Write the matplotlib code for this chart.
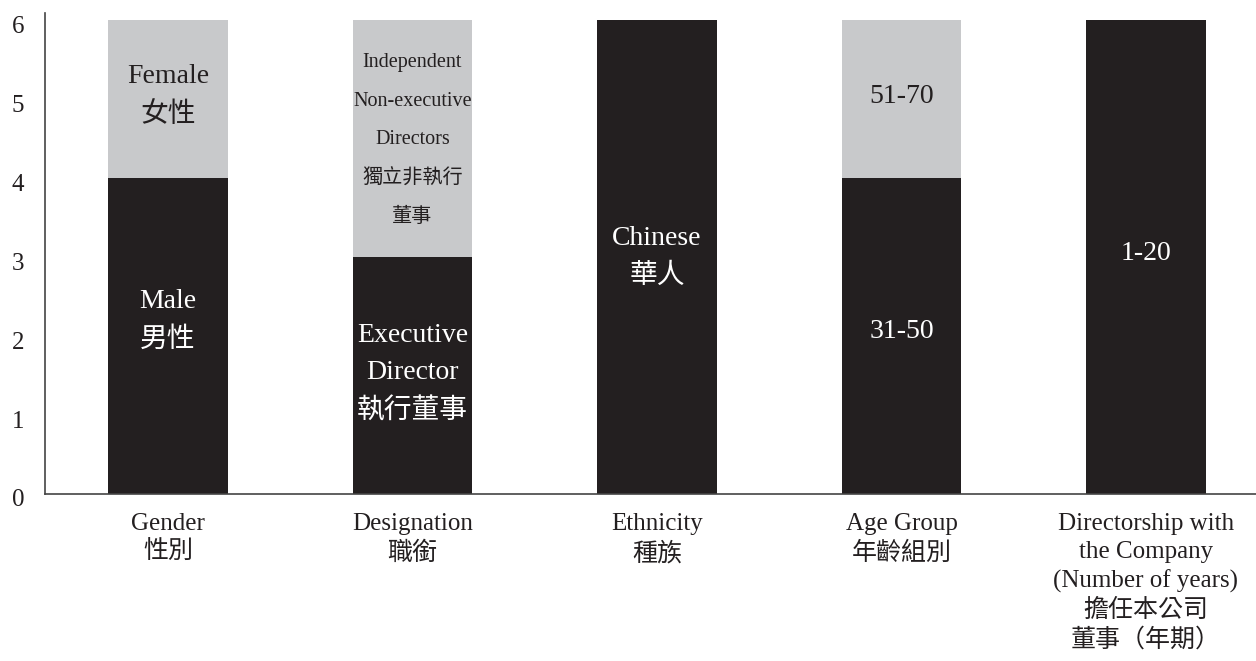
import matplotlib.pyplot as plt
import matplotlib.transforms as mtransforms
import numpy as np

plt.rcParams['font.family'] = ['Liberation Serif', 'Noto Sans CJK TC', 'DejaVu Sans']

categories = ["Gender\n性別", "Designation\n職銜", "Ethnicity\n種族", "Age Group\n年齡組別",
              "Directorship with\nthe Company\n(Number of years)\n擔任本公司\n董事（年期）"]
bottom_values = [4, 3, 6, 4, 6]
top_values = [2, 3, 0, 2, 0]
bottom_labels = ["Male\n男性", "Executive\nDirector\n執行董事", "Chinese\n華人", "31-50", "1-20"]
top_labels = ["Female\n女性", "Independent\nNon-executive\nDirectors\n獨立非執行\n董事", "", "51-70", ""]
bottom_label_y = [2.19, 1.52, 2.99, 2.06, 3.05]
top_label_y = [5.04, 4.48, 0, 5.03, 0]

dark = "#231f20"
light = "#c8c9cb"


def main():
    fig = plt.figure(figsize=(12.56, 6.61), dpi=100)
    ax = fig.add_axes([0.036, 0.253, 0.964, 0.727])
    x = np.arange(len(categories))
    width = 0.49
    ax.bar(x, bottom_values, width, color=dark)
    ax.bar(x, top_values, width, bottom=bottom_values, color=light)

    for i in range(len(categories)):
        ax.text(x[i], bottom_label_y[i], bottom_labels[i], ha="center", va="center",
                color="white", fontsize=20, linespacing=1.65)
        if top_labels[i]:
            if i == 1:
                # narrow column, the original uses a condensed face
                ax.text(x[i], top_label_y[i], top_labels[i], ha="center", va="center",
                        color=dark, fontsize=14.5, linespacing=2.4)
            else:
                ax.text(x[i], top_label_y[i], top_labels[i], ha="center", va="center",
                        color=dark, fontsize=20, linespacing=1.65)

    ax.set_xlim(-0.502, 4.45)
    ax.set_ylim(0, 6.09)
    ax.set_yticks(range(7))
    ax.set_xticks(x)
    ax.set_xticklabels(categories, fontsize=18, linespacing=1.34, color=dark)
    ax.tick_params(axis="both", length=0)
    ax.tick_params(axis="x", pad=14)
    ax.tick_params(axis="y", pad=24, labelsize=18, labelcolor=dark)
    shift = mtransforms.ScaledTranslation(0, -3 / 72, fig.dpi_scale_trans)
    for lab in ax.get_yticklabels():
        lab.set_horizontalalignment("left")
        lab.set_transform(lab.get_transform() + shift)
    ax.spines["top"].set_visible(False)
    ax.spines["right"].set_visible(False)
    ax.spines["left"].set_color("#444444")
    ax.spines["bottom"].set_color("#444444")
    ax.spines["left"].set_linewidth(1.2)
    ax.spines["bottom"].set_linewidth(1.2)

    plt.savefig("out.png", dpi=100)


if __name__ == '__main__':
    main()
